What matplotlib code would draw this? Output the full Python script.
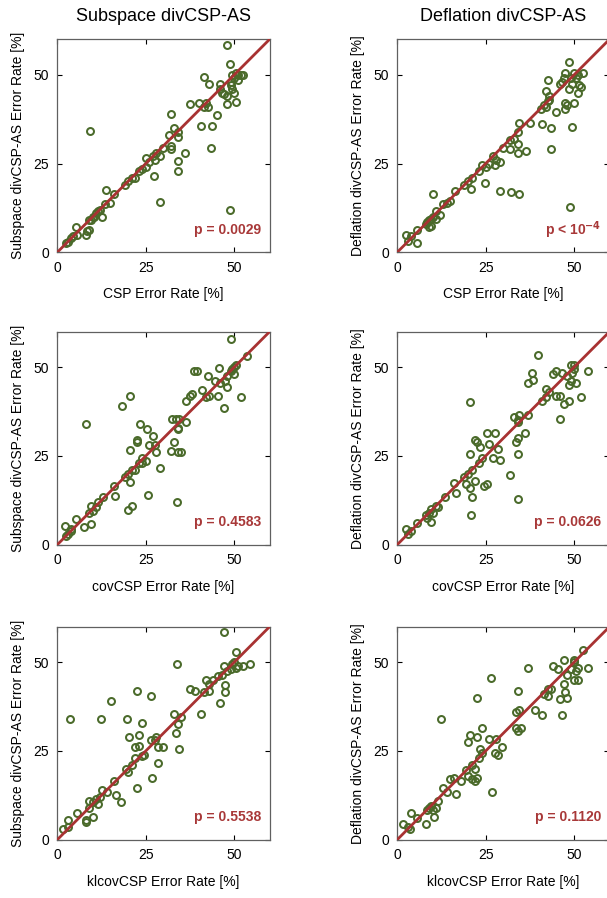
import matplotlib
matplotlib.use("Agg")
import matplotlib.pyplot as plt
import numpy as np

plt.rcParams['font.family'] = ['Liberation Sans', 'DejaVu Sans']

# ---------------- data ----------------
col_titles = ["Subspace divCSP-AS", "Deflation divCSP-AS"]
row_methods = ["CSP", "covCSP", "klcovCSP"]
ylabels = ["Subspace divCSP-AS Error Rate [%]", "Deflation divCSP-AS Error Rate [%]"]
pvalues = [["p = 0.0029", r"p < 10$^{\mathbf{-4}}$"],
           ["p = 0.4583", "p = 0.0626"],
           ["p = 0.5538", "p = 0.1120"]]
tick_vals = [0, 25, 50]
axis_lim = [0, 60]

# CSP vs Subspace
csp_sub_x = [2.5, 3, 4, 4.5, 5.5, 5.4, 8.1, 8.5, 9.1, 9, 9.5, 10, 10.5, 11, 11.5, 12, 12.7, 13.5, 13.7, 15,
             16, 19, 20, 21, 22, 23, 24, 25, 25, 26, 27, 27.5, 28, 27.3, 29, 30, 29.1, 31.5, 32, 32,
             32.1, 33, 34, 34, 34.1, 34.1, 36, 37.4, 40, 40.5, 41.5, 42, 41.6, 42.5, 42.8, 43.7, 43.4, 45.2, 46, 46,
             46.5, 47, 47.9, 48.1, 48, 48.7, 48.7, 49, 49, 49.5, 49.5, 50, 50, 50.5, 50.5, 51, 51, 52, 52.5, 9.25]
csp_sub_y = [2.5, 3, 4, 4.5, 5, 7.1, 5, 6, 6.4, 9, 9, 10, 10, 11, 11.5, 12, 9.9, 13.5, 17.6, 14,
             16.5, 19, 20, 21, 21, 23, 23.5, 26.5, 24, 25.5, 27, 26, 28, 21.4, 27, 29.5, 14.1, 33, 30, 29,
             39, 35, 32.5, 34, 25.6, 23, 28, 41.8, 42, 35.5, 41, 42, 49.4, 41, 47.5, 35.6, 29.4, 38.6, 47.5, 46,
             45, 44.5, 58.3, 41.7, 44, 53, 12, 48, 47, 50, 46, 45, 49, 50.5, 42.4, 48.5, 50, 50, 50, 34.05]

# CSP vs Deflation
csp_def_x = [2.5, 3, 4, 5.5, 5.5, 8, 8.5, 9, 9, 9.5, 9.5, 10, 10.2, 11, 11, 12, 13, 14, 15, 16.2,
             19, 20, 21, 20.8, 23, 24, 25, 24.7, 26, 27, 27.5, 28, 29, 29, 30, 32, 32, 33, 32.1, 34,
             34, 34, 34.5, 34.3, 36.5, 37.5, 40.5, 41, 41.5, 42, 42, 42.5, 42.5, 43, 43, 43.5, 43.5, 45, 46, 46.5,
             47, 47.5, 47.5, 47.5, 48, 48.5, 48.5, 48.9, 49.5, 49, 49.5, 50, 50, 50.5, 51, 51, 51.5, 52, 52.5]
csp_def_y = [4.9, 3.3, 4.5, 2.7, 6.3, 8, 8.5, 9, 7, 7.5, 9.5, 10, 16.4, 11.5, 9.5, 10.5, 13.5, 14, 14.5, 17.4,
             19, 20, 21, 17.7, 23, 24.5, 24, 19.5, 25, 27, 24.5, 26, 25.5, 17.2, 29.5, 31.5, 29, 32, 17, 30.5,
             28, 34, 36.5, 16.4, 28.5, 36.5, 40.5, 36, 41.5, 41, 45.5, 48.5, 42.5, 43, 44, 35, 29, 39.5, 47.5, 48,
             49, 50.5, 42, 40.5, 41.5, 46, 53.5, 12.9, 35.4, 49, 47.5, 42, 50.5, 49, 50, 45, 47, 46.5, 50.5]

# covCSP vs Subspace
cov_sub_x = [2.5, 2.3, 3, 4, 4, 5.3, 7.5, 8, 9, 9.5, 9.4, 10, 11, 11.5, 13, 16, 16.4, 18.4, 19, 20,
             20, 21, 20.5, 20.5, 20.5, 21, 22, 22.5, 22.5, 23, 23.5, 24, 24, 25, 25.4, 25.6, 26, 27, 27.5, 28,
             29, 32, 32.5, 33, 33.5, 34, 34, 34, 33.8, 34.5, 35, 36.5, 36.5, 37.5, 38, 38.5, 39.5, 41, 42, 42.5,
             43, 44.5, 45.5, 45.7, 46, 47, 47.5, 48, 48, 49, 49, 49.5, 50, 50, 50.5, 52, 53.5]
cov_sub_y = [2.5, 5.2, 3, 4, 4.5, 7.1, 4.9, 34.1, 9, 11, 5.9, 9.5, 10.5, 12, 13.5, 16.5, 13.7, 39.2, 19, 20,
             9.9, 11, 26.6, 42, 17.7, 21, 21, 29, 29.5, 23, 34.1, 24.5, 23, 23.5, 32.6, 13.9, 28, 30.5, 28, 26,
             21.5, 26.5, 35.5, 29, 35.5, 33, 32.5, 26, 11.9, 35.5, 26, 34.5, 40.5, 42, 42.5, 49, 49, 43.5, 41.5, 47.5,
             42, 46, 42, 49.7, 45.5, 38.5, 46, 47.5, 44.5, 49, 58, 49.5, 50, 48, 50.5, 41.5, 53.1]

# covCSP vs Deflation
cov_def_x = [2.5, 3, 4, 5.5, 8, 8.5, 9, 9.5, 9.5, 10, 11, 11.5, 13.5, 16, 16.5, 19, 19.5, 20, 20.5, 20.7,
             20.7, 21, 20.9, 21, 22, 22.5, 22, 23, 23.5, 24, 24.5, 25.5, 25.5, 26, 27, 27.5, 28.5, 29, 31.9, 33,
             33.5, 34, 34, 34, 34.5, 34, 34, 36, 37, 37, 38, 38.5, 39.7, 41, 42, 42, 43, 44, 45, 45,
             46, 46, 46.5, 47, 48, 48.5, 48.5, 49, 49, 49.5, 50, 50, 50.5, 52, 54]
cov_def_y = [4.5, 3, 4, 6, 8.5, 7.5, 9, 10, 6.5, 9, 11, 10.5, 13.5, 17.5, 14.5, 19, 17, 20, 16, 25.6,
             40.2, 13.5, 8.5, 21, 29.5, 29, 18, 23, 27.5, 24.5, 16.5, 17, 31.5, 28.5, 24.5, 31.5, 27, 24, 19.5, 36,
             29, 34.5, 30, 35, 36.5, 25.5, 12.8, 31.5, 36.5, 45.5, 48.5, 46.5, 53.3, 40.5, 41.5, 44, 43, 48, 49, 42,
             42, 35.5, 48.5, 39.5, 47.5, 40.5, 45, 50.5, 46, 48.5, 50.5, 49.5, 45.5, 41.5, 49]

# klcovCSP vs Subspace
kl_sub_x = [1.5, 3, 3, 3.6, 5.5, 8, 8, 9, 9, 10, 10, 11, 11.5, 12, 12.3, 12.5, 14, 15.2, 16, 16.5,
            18, 19.5, 19.7, 20, 20.4, 21, 22, 22, 22.5, 22.5, 23, 23, 24, 24, 24.5, 26.5, 26.8, 26.5, 27.5, 28,
            28.5, 28.5, 30, 33, 33.5, 34, 33.9, 34.5, 35, 37.5, 39, 40.5, 41.5, 42, 43, 43, 44, 45.5, 46, 46.5,
            47, 47.2, 47.5, 47.5, 48, 49, 49.5, 50, 50.5, 50.5, 51, 52.5, 54.5]
kl_sub_y = [3, 3.5, 5.5, 33.9, 7.5, 5, 5.5, 9, 11, 10.5, 6.5, 11.5, 10, 12, 33.9, 14, 13.5, 39.1, 16.5, 12.5,
            10.5, 20, 33.9, 19, 28.9, 21, 23, 26, 42, 14.5, 29.5, 26.5, 33, 23.5, 24, 28, 17.4, 40.6, 28, 29,
            26, 21.5, 26, 35.5, 30, 32.5, 49.5, 25.5, 34.5, 42.5, 42, 35.5, 41.5, 45, 42, 44, 45, 46, 38.5, 46.5,
            49, 58.4, 41.5, 43.5, 47.5, 48, 49.5, 50, 53, 48.5, 49, 49, 49.5]

# klcovCSP vs Deflation
kl_def_x = [1.5, 3, 3.5, 3.8, 5.5, 8, 8.5, 9, 9.5, 10, 10.5, 11, 11.5, 12.5, 13, 14, 15, 16, 16.5, 18,
            19.5, 20, 20, 20.5, 21, 21, 22, 22, 22.5, 22.5, 22.5, 23, 23.5, 24, 24, 26, 26.6, 26.9, 27.5, 28,
            28.5, 29.5, 33.5, 33.5, 34, 34, 34.5, 35, 37, 39, 41, 41.5, 42.5, 42.5, 43.5, 44, 45.5, 46, 46.5, 47,
            47, 47.5, 48, 48, 49, 50, 50, 50, 50.5, 51, 51, 52.5, 54]
kl_def_y = [4.5, 3.5, 3, 7.5, 6, 4.5, 8.5, 9, 9.5, 8.5, 6.5, 9, 11, 34.1, 14.5, 13.5, 17, 17.5, 13, 16.5,
            19.5, 18, 27.5, 29.5, 17, 21, 16.5, 20, 17.5, 40, 29, 23, 25.5, 31.5, 24.5, 28.5, 45.6, 13.5, 24.5, 28.5,
            24, 26, 36, 31.5, 42, 30.5, 36.5, 31.5, 48.5, 36.5, 35, 41, 42.5, 40.5, 42.5, 49, 48, 39.5, 35, 44,
            50.5, 41.5, 40, 46.5, 48, 50.5, 50, 45, 47.5, 48.5, 45, 53.5, 48.5]

panel_data = [[(csp_sub_x, csp_sub_y), (csp_def_x, csp_def_y)],
              [(cov_sub_x, cov_sub_y), (cov_def_x, cov_def_y)],
              [(kl_sub_x, kl_sub_y), (kl_def_x, kl_def_y)]]

# ---------------- styling ----------------
W, H = 607, 898
fig = plt.figure(figsize=(W / 100, H / 100), dpi=100)

marker_color = '#4a6a2a'
line_color = '#a83232'
text_color = '#a83838'
spine_color = '#606060'

col_left = [57.3, 397.2]
ax_w = 212.3
row_top = [39.3, 331.7, 626.7]
ax_h = 213.0

for r in range(3):
    for c in range(2):
        ax = fig.add_axes([col_left[c] / W, 1 - (row_top[r] + ax_h) / H, ax_w / W, ax_h / H])
        xs, ys = panel_data[r][c]
        ax.plot(axis_lim, axis_lim, color=line_color, lw=2.0, zorder=3)
        ax.plot(xs, ys, linestyle='none', marker='o', ms=5.0, mfc='none',
                mec=marker_color, mew=1.45, zorder=2)
        ax.set_xlim(axis_lim)
        ax.set_ylim(axis_lim)
        ax.set_xticks(tick_vals)
        ax.set_yticks(tick_vals)
        ax.tick_params(direction='in', top=True, right=True, length=3.5, width=0.8,
                       labelsize=10, colors='black', pad=6)
        for s in ax.spines.values():
            s.set_color(spine_color)
            s.set_linewidth(0.9)
        ax.set_xlabel(f"{row_methods[r]} Error Rate [%]", fontsize=10, labelpad=9)
        ax.set_ylabel(ylabels[c], fontsize=10, labelpad=6)
        ax.text(0.96, 0.105, pvalues[r][c], transform=ax.transAxes, ha='right', va='center',
                fontsize=10, fontweight='bold', color=text_color)
        if r == 0:
            ax.set_title(col_titles[c], fontsize=13, pad=13)

fig.savefig("out.png", dpi=100)
